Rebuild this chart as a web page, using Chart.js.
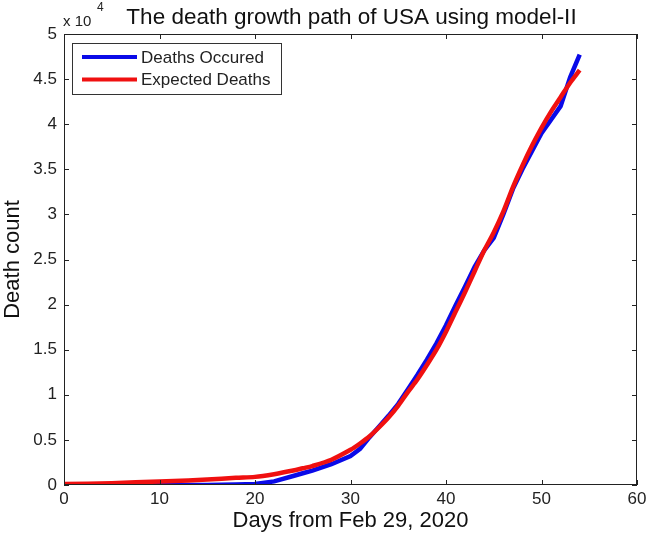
<!DOCTYPE html>
<html>
<head>
<meta charset="utf-8">
<script src="https://cdn.jsdelivr.net/npm/chart.js@4"></script>
<style>
  html, body { margin: 0; padding: 0; background: #fff; }
  #wrap { width: 646px; height: 541px; position: relative; }
</style>
</head>
<body>
<div id="wrap"><canvas id="chart"></canvas></div>
<script>
/* ================= DATA ================= */
const days = [0, 5, 10, 13, 15, 18, 20, 22, 24, 25, 26, 28, 30, 31, 32, 33, 34, 35, 36, 37, 38, 39, 40,
              41, 42, 43, 44, 45, 46, 47, 48, 49, 50, 51, 52, 53, 54];
// deaths in units of 1e4
const deathsOccured = [0, 0, 0, 0, 0, 0.005, 0.01, 0.04, 0.1, 0.13, 0.16, 0.23, 0.32, 0.4, 0.53, 0.65, 0.77, 0.9, 1.06, 1.22, 1.39, 1.57, 1.77,
                       1.99, 2.2, 2.42, 2.6, 2.74, 3.0, 3.28, 3.5, 3.7, 3.9, 4.05, 4.2, 4.52, 4.77];
const expectedDeaths = [0.01, 0.02, 0.04, 0.05, 0.06, 0.08, 0.09, 0.12, 0.16, 0.185, 0.21, 0.28, 0.39, 0.46, 0.54, 0.64, 0.75, 0.88, 1.03, 1.17, 1.33, 1.5, 1.7,
                        1.92, 2.14, 2.37, 2.6, 2.8, 3.03, 3.3, 3.54, 3.76, 3.96, 4.14, 4.3, 4.46, 4.6];
const xTicks = [0, 10, 20, 30, 40, 50, 60];
const yTicks = [0, 0.5, 1, 1.5, 2, 2.5, 3, 3.5, 4, 4.5, 5];

const SCALE = 10000;
const FONT = "'Liberation Sans', Arial, sans-serif";
const toPoints = arr => days.map((d, i) => ({ x: d, y: arr[i] * SCALE }));

/* ================= PLUGINS ================= */
// title centred over the plot, exponent label, box and inward ticks
const frame = {
    id: "frame",
    afterDraw(chart) {
        const { ctx, chartArea: a, scales } = chart;
        ctx.save();
        ctx.strokeStyle = "#222";
        ctx.lineWidth = 1;
        ctx.strokeRect(a.left + 0.5, a.top + 0.5, a.right - a.left - 1, a.bottom - a.top - 1);
        const len = 5;
        ctx.beginPath();
        xTicks.forEach(t => {
            const px = Math.round(scales.x.getPixelForValue(t)) + 0.5;
            ctx.moveTo(px, a.bottom); ctx.lineTo(px, a.bottom - len);
            ctx.moveTo(px, a.top); ctx.lineTo(px, a.top + len);
        });
        yTicks.forEach(t => {
            const py = Math.round(scales.y.getPixelForValue(t * SCALE)) + 0.5;
            ctx.moveTo(a.left, py); ctx.lineTo(a.left + len, py);
            ctx.moveTo(a.right, py); ctx.lineTo(a.right - len, py);
        });
        ctx.stroke();

        ctx.fillStyle = "#111";
        ctx.textAlign = "center";
        ctx.textBaseline = "alphabetic";
        ctx.font = "22.5px " + FONT;
        ctx.fillText("The death growth path of USA using model-II", (a.left + a.right) / 2 + 1, 24);

        ctx.fillStyle = "#222";
        ctx.textAlign = "left";
        ctx.font = "15px " + FONT;
        ctx.fillText("x 10", a.left - 1, a.top - 8);
        ctx.font = "12px " + FONT;
        ctx.fillText("4", a.left + 33, a.top - 23);
        ctx.restore();
    }
};

// legend box inside the plot area, top-left
const innerLegend = {
    id: "innerLegend",
    afterDatasetsDraw(chart) {
        const { ctx, chartArea: a } = chart;
        const x0 = a.left + 8, y0 = a.top + 9, w = 209, h = 51;
        ctx.save();
        ctx.fillStyle = "#fff";
        ctx.fillRect(x0, y0, w, h);
        ctx.strokeStyle = "#333";
        ctx.lineWidth = 1;
        ctx.strokeRect(x0 + 0.5, y0 + 0.5, w, h);
        ctx.font = "17px " + FONT;
        ctx.textBaseline = "middle";
        chart.data.datasets.forEach((ds, i) => {
            const y = y0 + 14 + i * 22.5;
            ctx.strokeStyle = ds.borderColor;
            ctx.lineWidth = 4;
            ctx.beginPath();
            ctx.moveTo(x0 + 10, y); ctx.lineTo(x0 + 65, y);
            ctx.stroke();
            ctx.fillStyle = "#222";
            ctx.fillText(ds.label, x0 + 69, y + 1);
        });
        ctx.restore();
    }
};

/* ================= CHART ================= */
new Chart(document.getElementById("chart"), {
    type: "line",
    data: {
        datasets: [
            {
                label: "Deaths Occured",
                data: toPoints(deathsOccured),
                borderColor: "#0a0ae8",
                borderWidth: 4.5,
                pointRadius: 0,
                tension: 0,
                order: 2
            },
            {
                label: "Expected Deaths",
                data: toPoints(expectedDeaths),
                borderColor: "#f01010",
                borderWidth: 4.5,
                pointRadius: 0,
                tension: 0.3,
                order: 1
            }
        ]
    },
    options: {
        responsive: true,
        maintainAspectRatio: false,
        animation: false,
        layout: { padding: { top: 34, right: 9, left: 0, bottom: 0 } },
        plugins: {
            legend: { display: false },
            tooltip: { enabled: false },
            title: { display: false }
        },
        scales: {
            x: {
                type: "linear",
                min: 0, max: 60,
                afterBuildTicks: s => { s.ticks = xTicks.map(v => ({ value: v })); },
                afterFit: s => { s.height = 56; s.paddingRight = 0; s.paddingLeft = 0; },
                grid: { display: false, drawTicks: false },
                border: { display: false },
                ticks: {
                    color: "#222",
                    padding: 4,
                    maxRotation: 0,
                    font: { size: 17, family: FONT }
                },
                title: {
                    display: true,
                    text: "Days from Feb 29, 2020",
                    color: "#111",
                    font: { size: 22, family: FONT },
                    padding: { top: 0, bottom: 7 }
                }
            },
            y: {
                type: "linear",
                min: 0, max: 5 * SCALE,
                afterBuildTicks: s => { s.ticks = yTicks.map(v => ({ value: v * SCALE })); },
                afterFit: s => { s.width = 64; s.paddingTop = 0; s.paddingBottom = 0; },
                grid: { display: false, drawTicks: false },
                border: { display: false },
                ticks: {
                    color: "#222",
                    padding: 7,
                    font: { size: 17, family: FONT },
                    callback: v => String(v / SCALE)
                },
                title: {
                    display: true,
                    text: "Death count",
                    color: "#111",
                    font: { size: 22, family: FONT },
                    padding: { top: 0, bottom: 0 }
                }
            }
        }
    },
    plugins: [frame, innerLegend]
});
</script>
</body>
</html>
